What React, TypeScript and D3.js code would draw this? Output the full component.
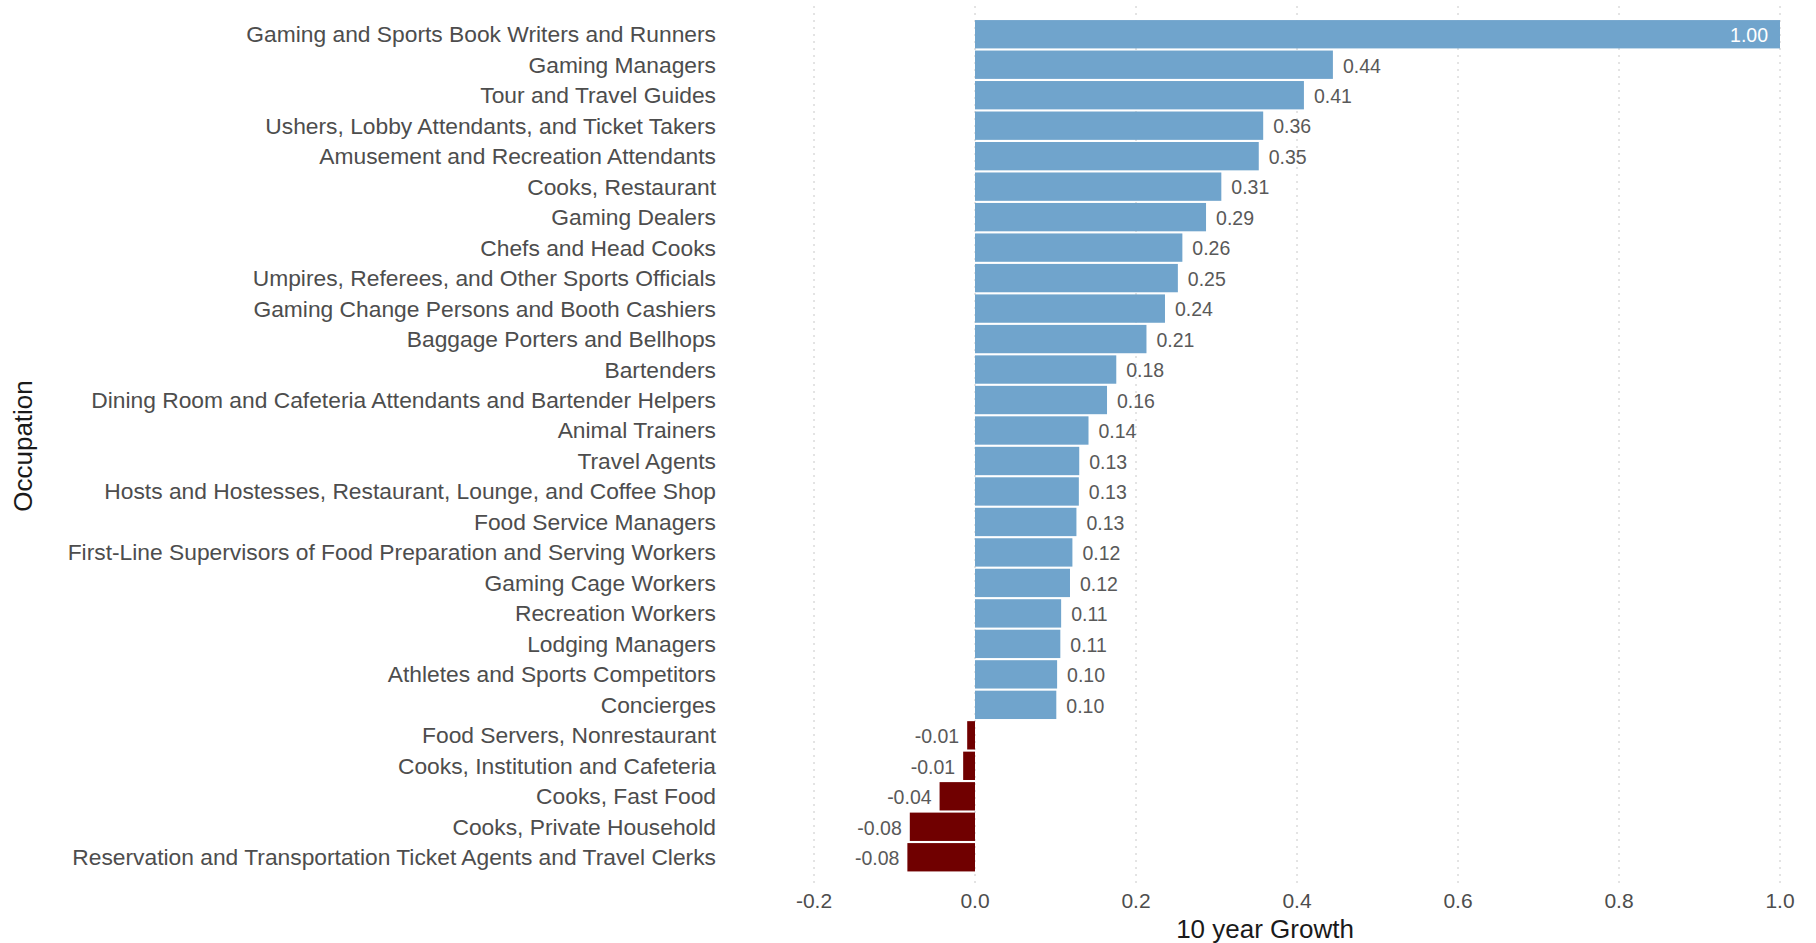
import React from "react";
import * as d3 from "d3";

const occupations = [
  "Gaming and Sports Book Writers and Runners",
  "Gaming Managers",
  "Tour and Travel Guides",
  "Ushers, Lobby Attendants, and Ticket Takers",
  "Amusement and Recreation Attendants",
  "Cooks, Restaurant",
  "Gaming Dealers",
  "Chefs and Head Cooks",
  "Umpires, Referees, and Other Sports Officials",
  "Gaming Change Persons and Booth Cashiers",
  "Baggage Porters and Bellhops",
  "Bartenders",
  "Dining Room and Cafeteria Attendants and Bartender Helpers",
  "Animal Trainers",
  "Travel Agents",
  "Hosts and Hostesses, Restaurant, Lounge, and Coffee Shop",
  "Food Service Managers",
  "First-Line Supervisors of Food Preparation and Serving Workers",
  "Gaming Cage Workers",
  "Recreation Workers",
  "Lodging Managers",
  "Athletes and Sports Competitors",
  "Concierges",
  "Food Servers, Nonrestaurant",
  "Cooks, Institution and Cafeteria",
  "Cooks, Fast Food",
  "Cooks, Private Household",
  "Reservation and Transportation Ticket Agents and Travel Clerks",
];

const growth = [
  1.0, 0.4446, 0.4086, 0.358, 0.3525, 0.306, 0.287, 0.2576, 0.252, 0.236,
  0.213, 0.1755, 0.164, 0.141, 0.1295, 0.129, 0.126, 0.121, 0.118, 0.107,
  0.106, 0.102, 0.101, -0.0097, -0.0147, -0.044, -0.081, -0.084,
];

const xTicks = [-0.2, 0, 0.2, 0.4, 0.6, 0.8, 1.0];

const W = 1816;
const H = 943;
const FONT = "'Liberation Sans', Arial, sans-serif";

const locale = d3.formatLocale({
  decimal: ".",
  thousands: ",",
  grouping: [3],
  currency: ["$", ""],
  minus: "-",
});

export default function App() {
  const x = d3.scaleLinear().domain([-0.2, 1.0]).range([814, 1780]);
  const y = d3
    .scaleBand<string>()
    .domain(occupations)
    .range([19, 872.5])
    .paddingInner(0.07)
    .paddingOuter(0.035);
  const fmt = locale.format(".2f");
  const tickFmt = locale.format(".1f");

  return (
    <svg
      width={W}
      height={H}
      style={{ position: "absolute", left: 0, top: 0, background: "#fff" }}
      fontFamily={FONT}
    >
      {xTicks.map((t) => (
        <line
          key={"g" + t}
          x1={x(t)}
          x2={x(t)}
          y1={6}
          y2={886}
          stroke="#c8c8c8"
          strokeWidth={1}
          strokeDasharray="2,5"
        />
      ))}
      {occupations.map((o, i) => {
        const v = growth[i];
        const x0 = x(Math.min(0, v));
        const x1 = x(Math.max(0, v));
        const yy = y(o)!;
        const bw = y.bandwidth();
        const cy = yy + bw / 2;
        const inside = v >= 0.9;
        return (
          <g key={o}>
            <rect
              x={x0}
              y={yy}
              width={x1 - x0}
              height={bw}
              fill={v >= 0 ? "#70a4cc" : "#700000"}
            />
            <text
              x={716}
              y={cy}
              dy="0.35em"
              textAnchor="end"
              fontSize={22.8}
              fill="#4d4d4d"
            >
              {o}
            </text>
            <text
              x={inside ? x1 - 12 : v >= 0 ? x1 + 10 : x0 - 8}
              y={cy}
              dy="0.4em"
              textAnchor={inside || v < 0 ? "end" : "start"}
              fontSize={19.5}
              fill={inside ? "#ffffff" : "#595959"}
            >
              {fmt(v)}
            </text>
          </g>
        );
      })}
      {xTicks.map((t) => (
        <text
          key={"t" + t}
          x={x(t)}
          y={901}
          dy="0.35em"
          textAnchor="middle"
          fontSize={21}
          fill="#4d4d4d"
        >
          {tickFmt(t)}
        </text>
      ))}
      <text
        x={1265}
        y={929}
        dy="0.35em"
        textAnchor="middle"
        fontSize={26}
        fill="#1a1a1a"
      >
        10 year Growth
      </text>
      <text
        transform={`translate(23,446) rotate(-90)`}
        dy="0.35em"
        textAnchor="middle"
        fontSize={26}
        fill="#1a1a1a"
      >
        Occupation
      </text>
    </svg>
  );
}
